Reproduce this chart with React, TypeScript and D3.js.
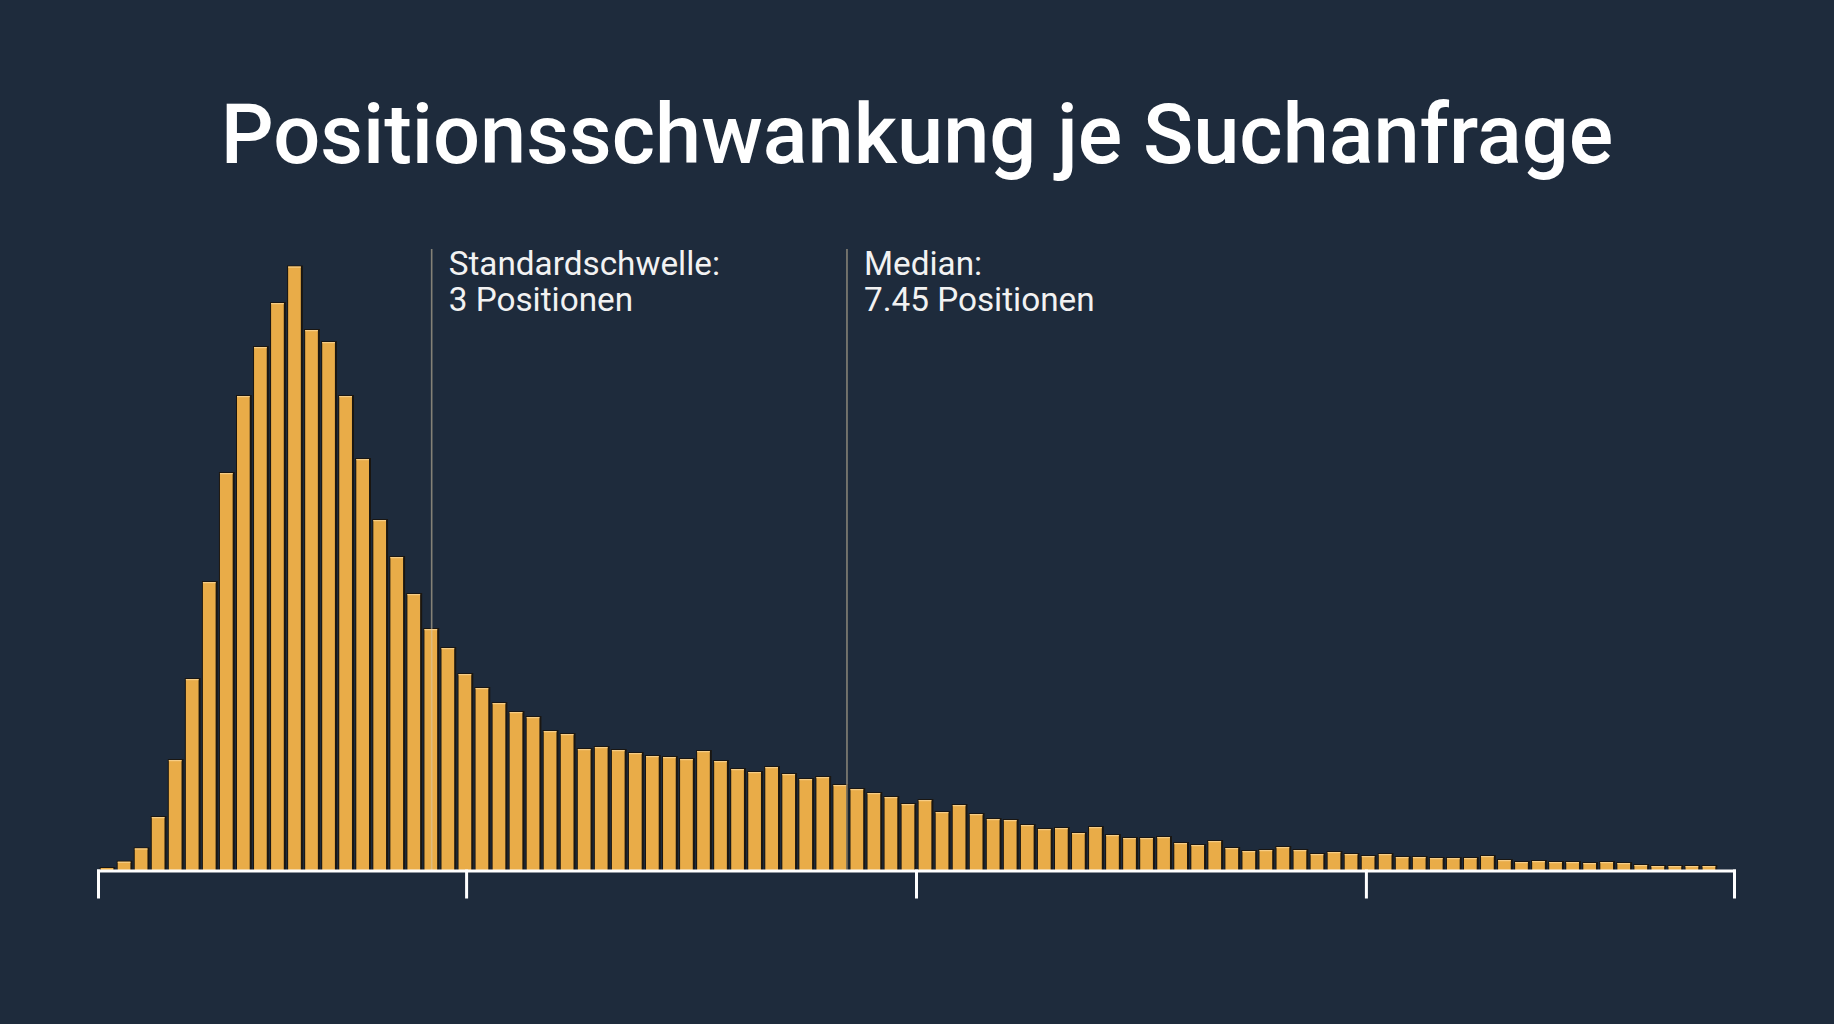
import React from "react";
import * as d3 from "d3";

// ---- Data ----
const TITLE = "Positionsschwankung je Suchanfrage";

// bar heights (relative frequency units), one per bin
const BIN_VALUES: number[] = [
  2, 8.3, 21.6, 53, 110, 191, 288, 397, 474, 523,
  567, 603.5, 540, 528, 474, 411, 350, 313, 276, 241,
  222, 196, 182, 167, 158, 153, 139, 136, 121, 123,
  120, 117, 114, 113, 111, 119, 109, 101, 98, 103,
  96, 91, 93, 85, 81, 77, 73, 66, 70, 58,
  65, 56, 51, 50, 45, 41, 42, 37, 43, 35,
  32, 32, 33, 27, 25, 29, 22, 19, 20, 23,
  20, 16, 18, 16, 14, 16, 13, 13, 12, 12,
  12, 14, 10, 8, 9, 8, 8, 7, 8, 7,
  5, 4, 4, 4, 4,
];

// axis extent and tick positions, in bin units
const X_DOMAIN: [number, number] = [0, 96];
const TICK_VALUES: number[] = [0, 21.6, 48, 74.4, 96];

// reference markers, in bin units
const MARKER_BINS: number[] = [19.55, 43.92];
const MARKER_LABELS: string[][] = [
  ["Standardschwelle:", "3 Positionen"],
  ["Median:", "7.45 Positionen"],
];

// ---- Layout / style ----
const W = 1834;
const H = 1024;
const BG = "#1E2B3C";
const BAR = "#E9AC48";
const BAR_HI = "#F6CD86";
const BAR_EDGE = "#1a1309";
const AXIS_Y = 871;
const PLOT_TOP = 266.5;
const FONT = "Roboto, 'Noto Sans', 'DejaVu Sans', sans-serif";

export default function App() {
  const x = d3.scaleLinear().domain(X_DOMAIN).range([98.5, 1734.5]);
  const yMax = d3.max(BIN_VALUES) ?? 1;
  const y = d3.scaleLinear().domain([0, yMax]).range([AXIS_Y - 1, PLOT_TOP]);
  const pitch = x(1) - x(0);
  const bw = pitch * 0.745;

  return (
    <svg
      width={W}
      height={H}
      viewBox={`0 0 ${W} ${H}`}
      style={{ position: "absolute", left: 0, top: 0, display: "block" }}
    >
      <rect x={0} y={0} width={W} height={H} fill={BG} />

      <text
        x={W / 2}
        y={163}
        textAnchor="middle"
        fill="#FFFFFF"
        fontFamily={FONT}
        fontWeight={500}
        fontSize={83}
      >
        {TITLE}
      </text>

      <g>
        {BIN_VALUES.map((v, i) => {
          const cx = x(i + 0.5);
          const top = y(v);
          const h = y(0) - top;
          return (
            <g key={i}>
              <rect
                x={cx - bw / 2 - 1}
                y={top - 1}
                width={bw + 3}
                height={h + 1}
                fill={BAR_EDGE}
                opacity={0.85}
              />
              <rect x={cx - bw / 2} y={top} width={bw} height={h} fill={BAR} />
              {h > 3 && (
                <rect
                  x={cx - bw / 2}
                  y={top}
                  width={bw}
                  height={1.2}
                  fill={BAR_HI}
                />
              )}
            </g>
          );
        })}
      </g>

      {MARKER_BINS.map((b, i) => {
        const mx = x(b);
        return (
          <g key={i}>
            <line
              x1={mx}
              x2={mx}
              y1={249}
              y2={AXIS_Y}
              stroke="#D8C8A8"
              strokeOpacity={0.55}
              strokeWidth={1.6}
            />
            {MARKER_LABELS[i].map((t, j) => (
              <text
                key={j}
                x={mx + 17}
                y={275 + j * 36}
                fill="#F2F2F2"
                fontFamily={FONT}
                fontWeight={400}
                fontSize={33.3}
              >
                {t}
              </text>
            ))}
          </g>
        );
      })}

      <g stroke="#FFFFFF" strokeWidth={3} strokeLinecap="square">
        <line x1={x(X_DOMAIN[0])} x2={x(X_DOMAIN[1])} y1={AXIS_Y} y2={AXIS_Y} />
        {TICK_VALUES.map((t, i) => (
          <line key={i} x1={x(t)} x2={x(t)} y1={AXIS_Y} y2={897} />
        ))}
      </g>
    </svg>
  );
}
